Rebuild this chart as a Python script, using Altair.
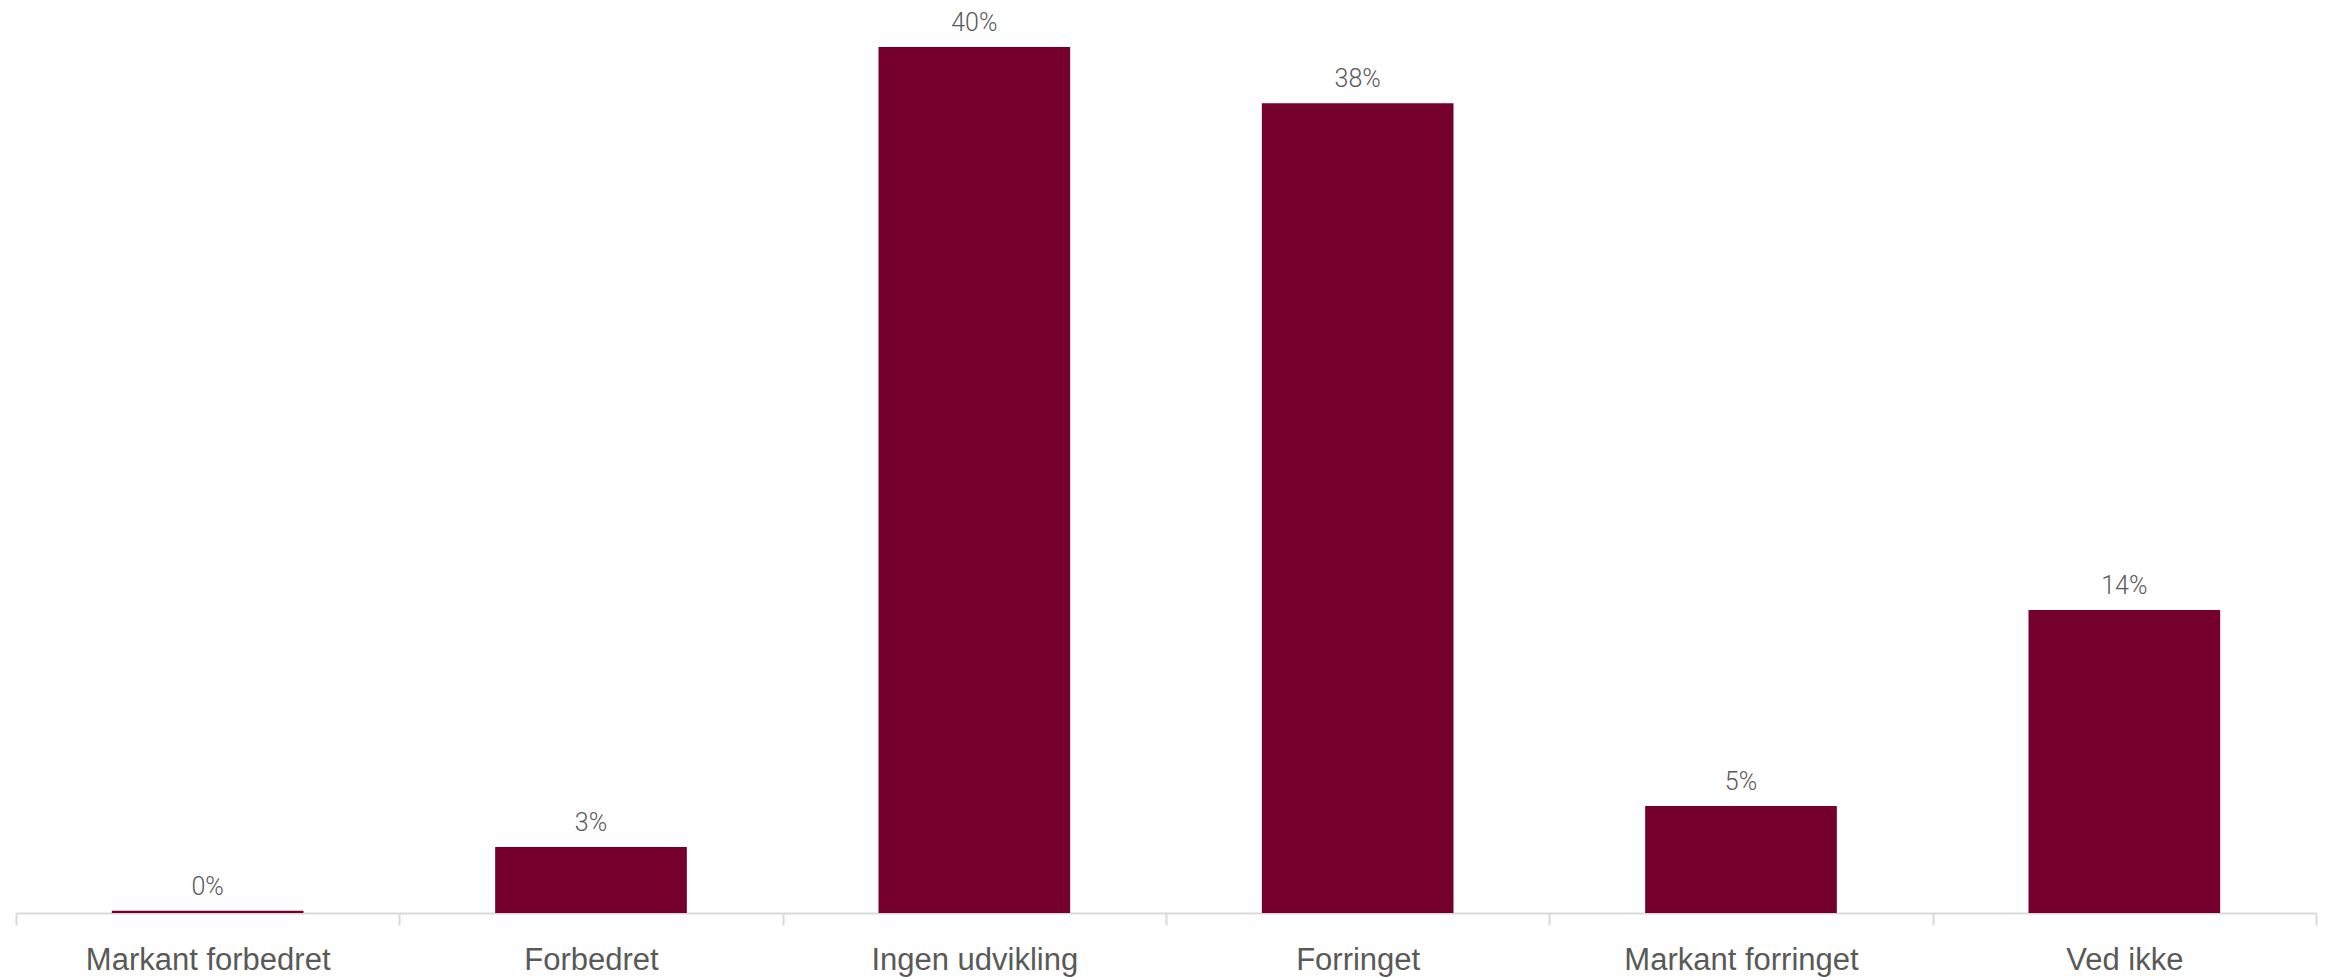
import altair as alt
import pandas as pd

categories = ["Markant forbedret", "Forbedret", "Ingen udvikling", "Forringet", "Markant forringet", "Ved ikke"]
values = [0.001, 0.0305, 0.40, 0.374, 0.0494, 0.14]
labels = ["0%", "3%", "40%", "38%", "5%", "14%"]

df = pd.DataFrame({"cat": categories, "val": values, "lab": labels})

x = alt.X("cat:N", sort=categories, title=None,
          scale=alt.Scale(paddingInner=0, paddingOuter=0),
          axis=alt.Axis(labelAngle=0, labelFont="Liberation Sans", labelFontSize=31,
                        labelColor="#595959", labelBaseline="alphabetic", labelPadding=44,
                        labelLimit=0,
                        domainColor="#d9d9d9", domainWidth=2, tickColor="#d9d9d9",
                        tickWidth=2, tickSize=12, tickBand="extent"))
y = alt.Y("val:Q", title=None, scale=alt.Scale(domain=[0, 0.4], nice=False),
          axis=None)

bars = alt.Chart(df).mark_bar(color="#75002D", width=alt.RelativeBandSize(0.5)).encode(x=x, y=y)
text = alt.Chart(df).mark_text(font="Roboto", fontWeight=300, fontSize=25, color="#595959",
                               baseline="alphabetic", dy=-16).encode(x=x, y=y, text="lab:N")

chart = alt.layer(bars, text).properties(
    width=2300, height=866,
    autosize=alt.AutoSizeParams(type="none"),
    padding={"left": 8, "top": 39, "right": 4, "bottom": 64},
).configure_view(stroke=None)

chart.save("out.html", embed_options={"renderer": "svg", "actions": False})
